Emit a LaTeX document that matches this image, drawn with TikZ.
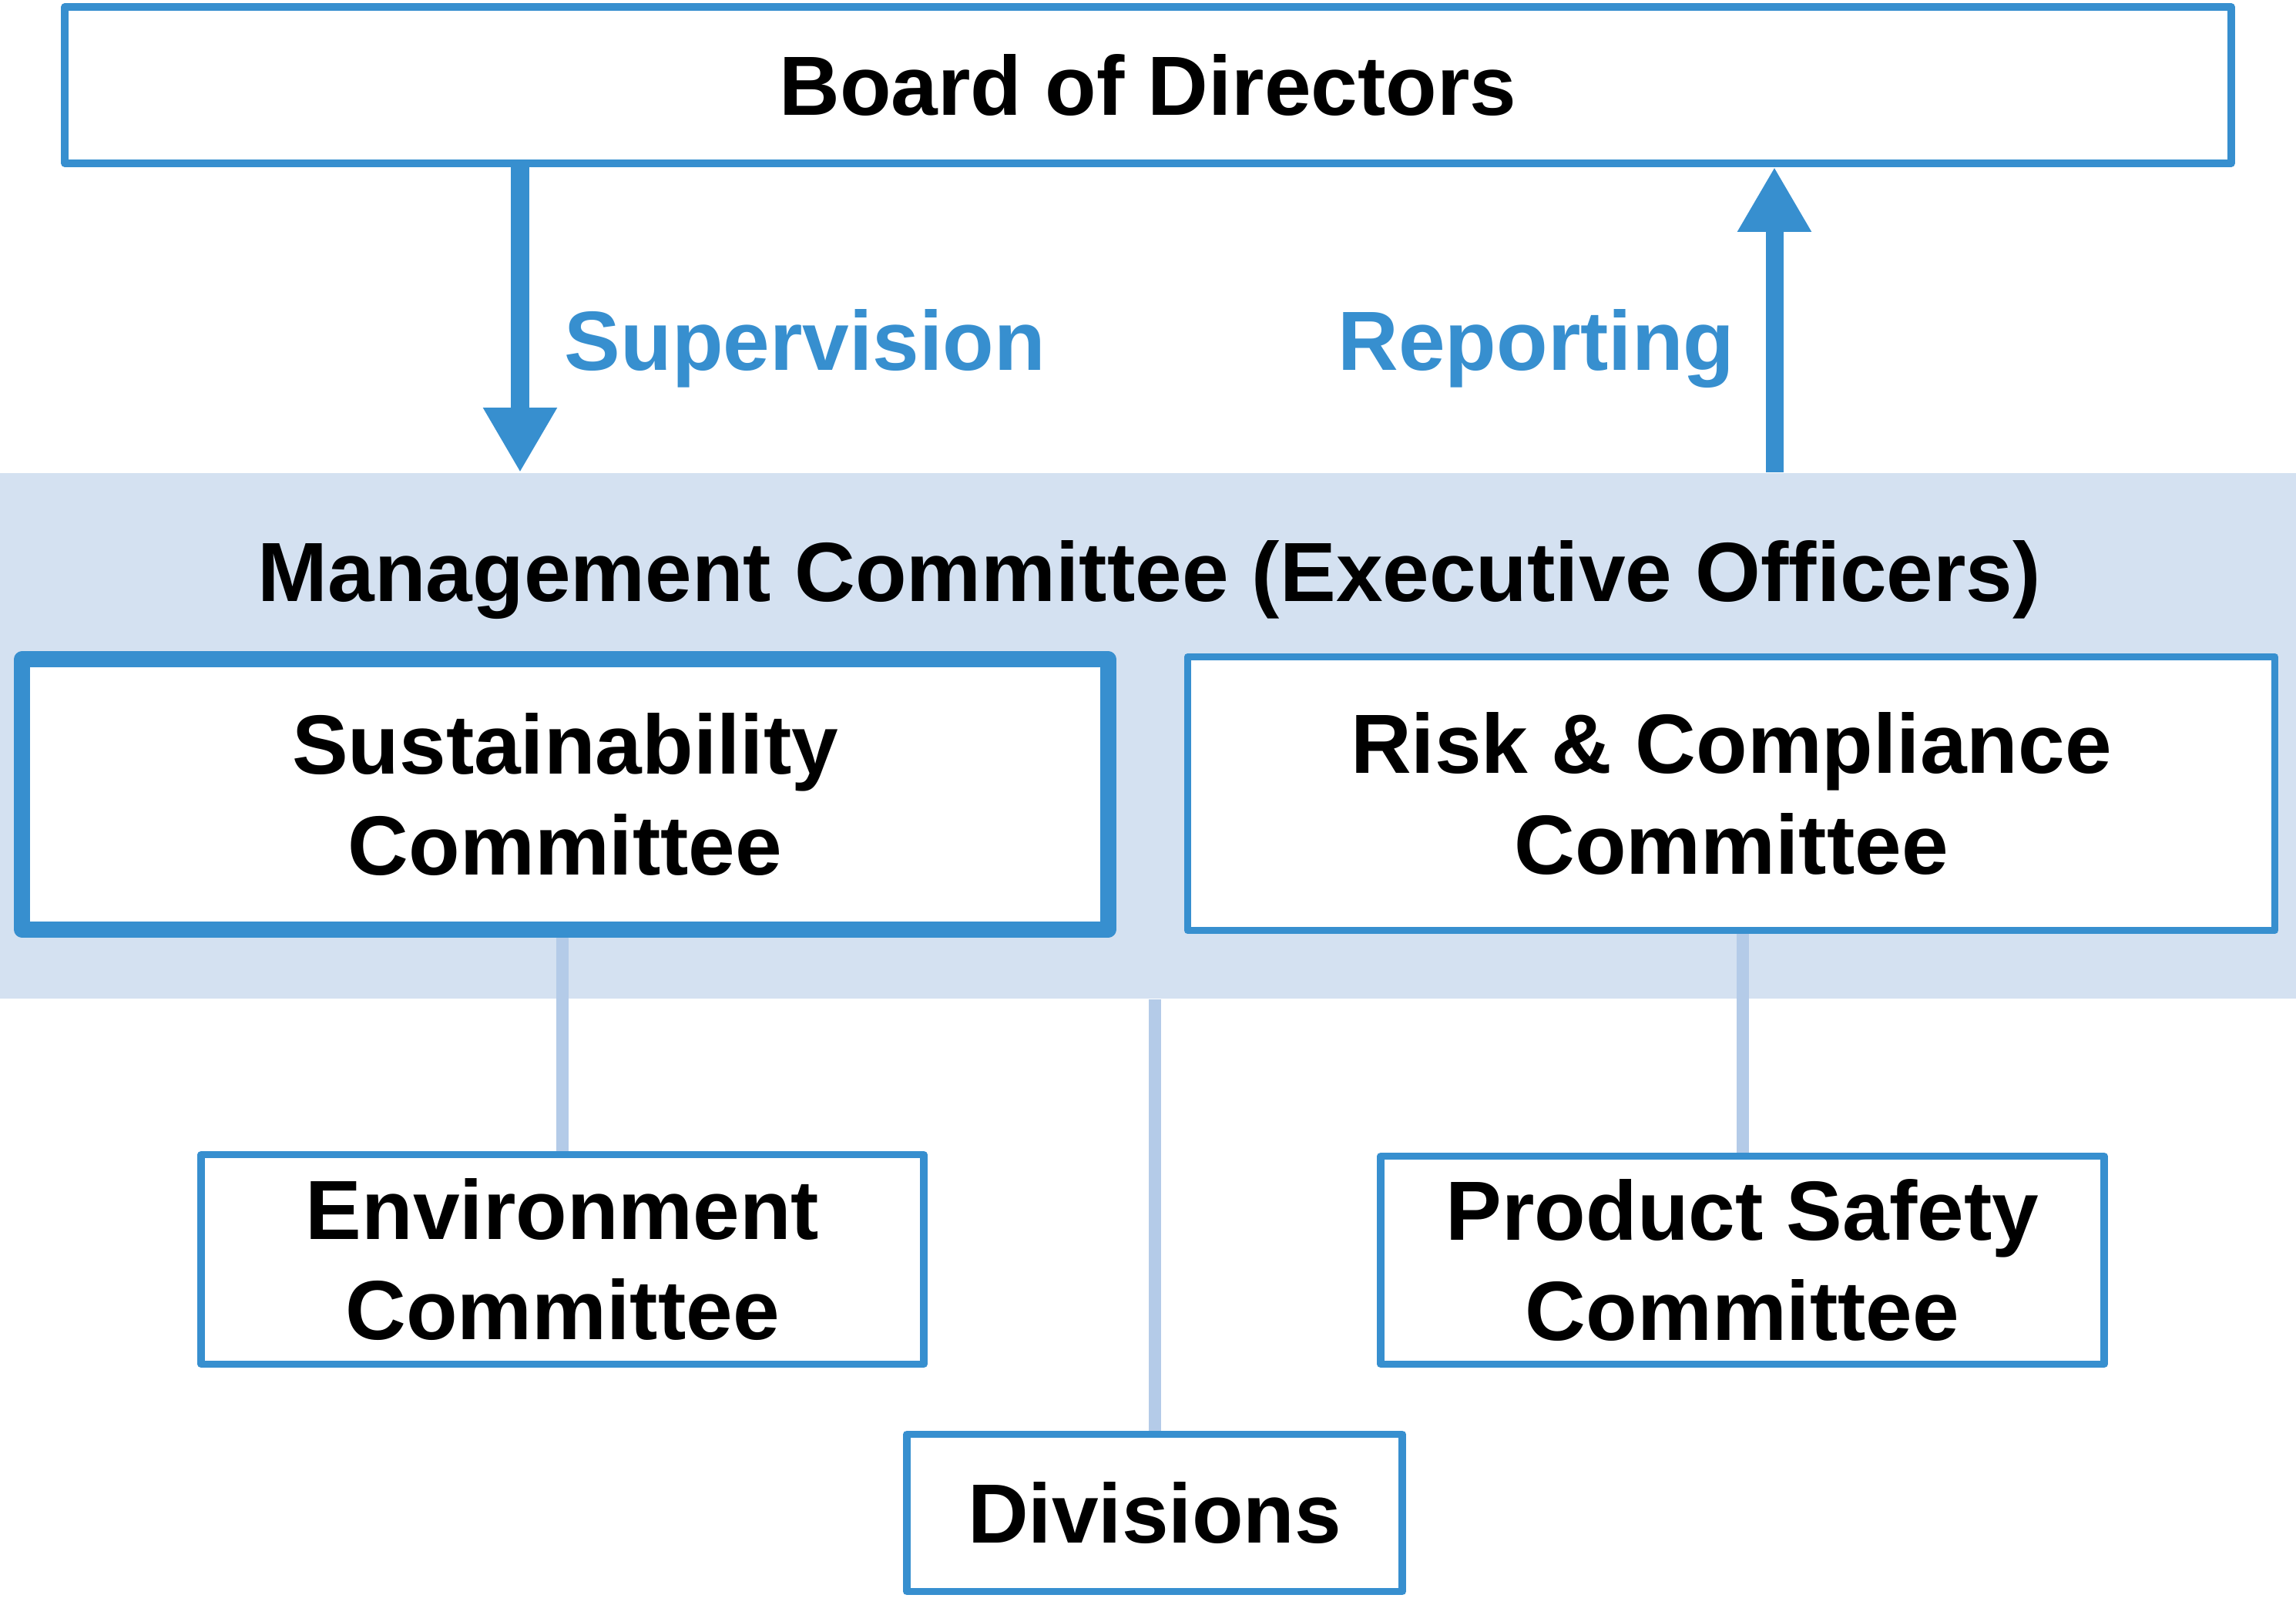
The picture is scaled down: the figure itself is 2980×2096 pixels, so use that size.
\documentclass[tikz,border=0pt]{standalone}
\usepackage{fontspec}
\setmainfont{Liberation Sans}
\usetikzlibrary{arrows.meta,positioning}
\definecolor{Blue}{HTML}{378FCF}
\definecolor{Band}{HTML}{D4E1F1}
\definecolor{Link}{HTML}{B4CBE8}

\begin{document}
\begin{tikzpicture}[x=0.01cm,y=-0.01cm,
  every node/.style={font=\fontsize{31}{37}\selectfont\bfseries,align=center},
  box/.style={draw=Blue,line width=0.095cm,fill=white,inner sep=0pt,line join=round},
  flow/.style={Blue,line width=0.23cm,-{Triangle[width=0.9cm,length=0.84cm]}},
  link/.style={Link,line width=0.16cm},
  lbl/.style={text=Blue,inner sep=0pt}]
  \useasboundingbox (0,0) rectangle (2980,2096);
  % management band
  \node[fill=Band,inner sep=0pt,minimum width=29.8cm,minimum height=6.82cm] (band) at (1490,955) {};
  \node[inner sep=0pt,anchor=base] (mgmt) at (1492,780) {Management Committee (Executive Officers)};
  \node[box,minimum width=28.1cm,minimum height=2.03cm] (board) at (1490,110.5) {Board of Directors};
  \node[box,line width=0.21cm,minimum width=14.09cm,minimum height=3.5cm] (sust) at (733.5,1031) {Sustainability\\Committee};
  \node[box,minimum width=14.1cm,minimum height=3.55cm] (risk) at (2247,1030) {Risk \& Compliance\\Committee};
  \node[box,minimum width=9.37cm,minimum height=2.72cm] (env) at (730,1634.5) {Environment\\Committee};
  \node[box,minimum width=9.38cm,minimum height=2.7cm] (safety) at (2261.5,1635.5) {Product Safety\\Committee};
  \node[box,minimum width=6.43cm,minimum height=2.04cm] (div) at (1498.5,1963.5) {Divisions};
  % supervision / reporting
  \coordinate (supx) at (675,0);
  \coordinate (repx) at (2303,0);
  \draw[flow] (board.south -| supx) -- (band.north -| supx);
  \draw[flow] (band.north -| repx) -- (board.south -| repx);
  \node[lbl,anchor=base west] (suplbl) at (732,480) {Supervision};
  \node[lbl,anchor=base east] (replbl) at (2252,480) {Reporting};
  % links
  \draw[link] (sust.south -| env.north) -- (env.north);
  \draw[link] (risk.south -| safety.north) -- (safety.north);
  \draw[link] (band.south -| div.north) -- (div.north);
\end{tikzpicture}
\end{document}
